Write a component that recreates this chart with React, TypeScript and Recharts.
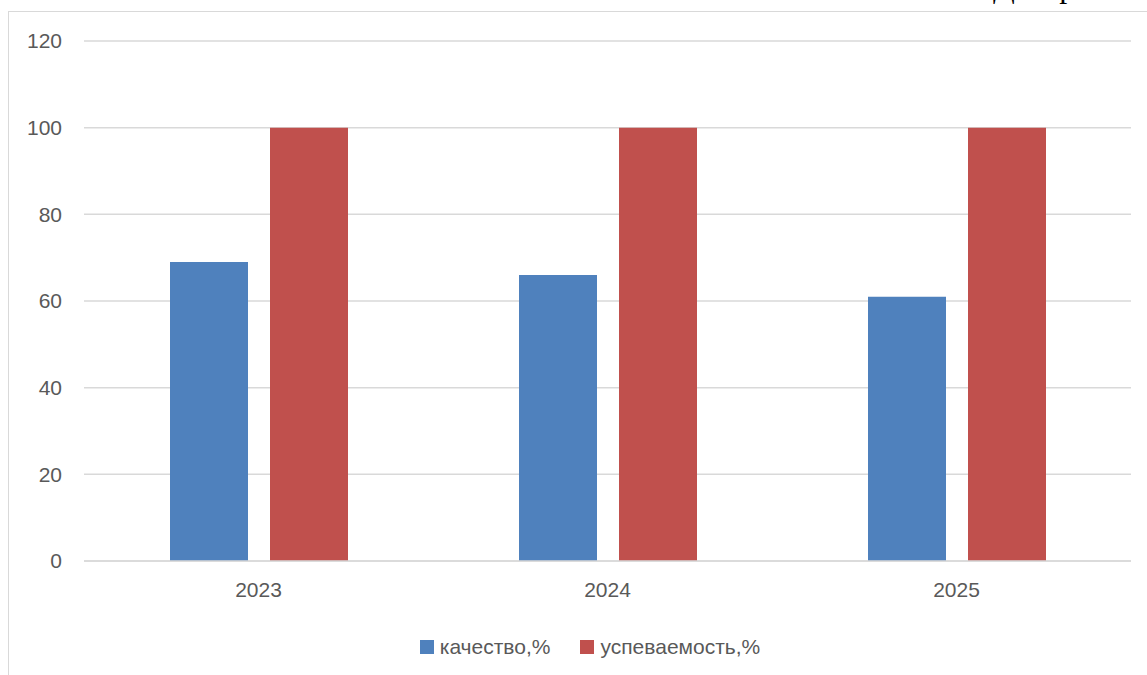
import React from 'react'
import { BarChart, Bar, XAxis, YAxis, CartesianGrid } from 'recharts'

const years = ['2023', '2024', '2025']
const quality = [69, 66, 61]
const progress = [100, 100, 100]
const yTicks = [0, 20, 40, 60, 80, 100, 120]

const series = [
  { key: 'quality', name: 'качество,%', color: '#4f81bd' },
  { key: 'progress', name: 'успеваемость,%', color: '#c0504d' },
]

const data = years.map((year, i) => ({ year, quality: quality[i], progress: progress[i] }))

const FONT = '"Liberation Sans", Arial, sans-serif'
const TEXT = '#595959'
const GRID = '#d9d9d9'

export default function App() {
  return (
    <div style={{ position: 'fixed', left: 0, top: 0, width: 1147, height: 675, overflow: 'hidden', background: '#fff' }}>
      {/* heading above the chart, only its descenders show */}
      <span
        style={{
          position: 'absolute',
          left: 993,
          top: -30,
          fontFamily: '"Liberation Serif", serif',
          fontSize: 32,
          lineHeight: '32px',
          color: '#000',
          whiteSpace: 'nowrap',
        }}
      >
        Диаграмма
      </span>
      <div
        style={{
          position: 'absolute',
          left: 8,
          top: 11,
          width: 1162,
          height: 700,
          border: `1px solid ${GRID}`,
          boxSizing: 'border-box',
        }}
      >
        <div
          style={{
            position: 'absolute',
            top: 623,
            left: 0,
            width: 1162,
            display: 'flex',
            justifyContent: 'center',
            alignItems: 'center',
            fontFamily: FONT,
            fontSize: 21,
            color: TEXT,
          }}
        >
          {series.map((s, i) => (
            <div key={s.key} style={{ display: 'flex', alignItems: 'center', marginLeft: i ? 30 : 0 }}>
              <span style={{ width: 14, height: 14, background: s.color, display: 'inline-block', marginRight: 6 }} />
              <span>{s.name}</span>
            </div>
          ))}
        </div>
      </div>
      <div style={{ position: 'absolute', left: 0, top: 0 }}>
        <BarChart
          width={1147}
          height={675}
          data={data}
          margin={{ top: 41, right: 16, left: 0, bottom: 74 }}
          barCategoryGap={86}
          barGap={22}
        >
          <CartesianGrid horizontal vertical={false} stroke={GRID} strokeWidth={1.5} />
          <XAxis
            dataKey="year"
            height={40}
            tickLine={false}
            axisLine={{ stroke: GRID, strokeWidth: 1.5 }}
            tickSize={0}
            tickMargin={21}
            tick={{ fill: TEXT, fontFamily: FONT, fontSize: 21 }}
          />
          <YAxis
            width={84}
            domain={[0, 120]}
            ticks={yTicks}
            interval={0}
            axisLine={false}
            tickLine={false}
            tickSize={0}
            tickMargin={22}
            tick={{ fill: TEXT, fontFamily: FONT, fontSize: 21 }}
          />
          {series.map((s) => (
            <Bar key={s.key} dataKey={s.key} name={s.name} fill={s.color} barSize={78} isAnimationActive={false} />
          ))}
        </BarChart>
      </div>
    </div>
  )
}
